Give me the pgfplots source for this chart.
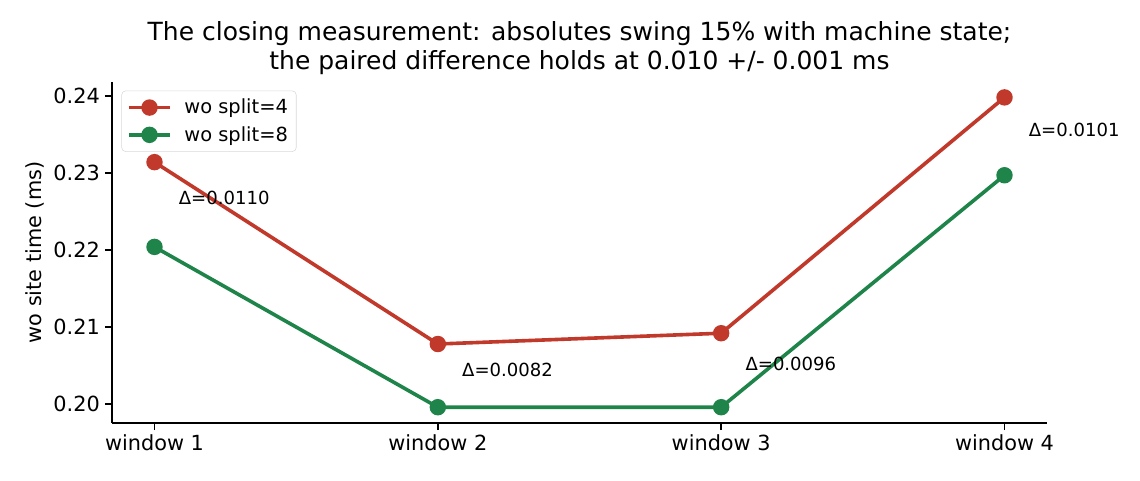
\documentclass[border=0pt]{standalone}
\usepackage{pgfplots}
\pgfplotsset{compat=1.18}
\usepackage{fontspec}
\setmainfont{DejaVu Sans}
\definecolor{cred}{HTML}{C0392B}
\definecolor{cgreen}{HTML}{1E8449}
\begin{document}
\begin{tikzpicture}
\useasboundingbox (-80.64pt,-41.04pt) rectangle (740.16pt,304.56pt);
\begin{axis}[
  at={(0,0)}, anchor=south west,
  scale only axis, width=673.2pt, height=245.52pt,
  xmin=-0.15, xmax=3.15, ymin=0.19755, ymax=0.2418,
  xtick={0,1,2,3}, xticklabels={window 1,window 2,window 3,window 4},
  ytick={0.20,0.21,0.22,0.23,0.24},
  yticklabel style={/pgf/number format/.cd, fixed, fixed zerofill, precision=2},
  /pgf/number format/assume math mode=true,
  tick label style={font=\fontsize{15}{18}\selectfont},
  axis x line*=bottom, axis y line*=left,
  axis line style={line width=1.1pt, -},
  tick style={line width=1.1pt, black},
  tick align=outside, major tick length=5.2pt,
  ylabel={wo site time (ms)},
  ylabel style={font=\fontsize{15}{18}\selectfont},
  title={The closing measurement: absolutes swing 15\% with machine state;\\the paired difference holds at 0.010 +/- 0.001 ms},
  title style={font=\fontsize{18}{20.5}\selectfont, align=center, yshift=-4pt},
  legend style={font=\fontsize{14}{17}\selectfont, draw=black!15, rounded corners=3pt, at={(0.01,0.975)}, anchor=north west, row sep=3.5pt, inner sep=4pt},
  legend cell align=left,
  legend image code/.code={\draw[#1, mark repeat=2, mark phase=2] plot coordinates {(0cm,0cm) (0.52cm,0cm) (1.04cm,0cm)}; \path (1.04cm+7pt,0cm);},
  clip=false,
]
\addplot[cred, line width=2.6pt, mark=*, mark size=4.6pt, mark options={solid}] coordinates {(0,0.2314) (1,0.2078) (2,0.2092) (3,0.2398)};
\addlegendentry{wo split=4}
\addplot[cgreen, line width=2.6pt, mark=*, mark size=4.6pt, mark options={solid}] coordinates {(0,0.2204) (1,0.1996) (2,0.1996) (3,0.2297)};
\addlegendentry{wo split=8}
\node[anchor=west, font=\fontsize{13}{15}\selectfont, inner sep=0pt] at (axis cs:0.085,0.2267) {Δ=0.0110};
\node[anchor=west, font=\fontsize{13}{15}\selectfont, inner sep=0pt] at (axis cs:1.085,0.2044) {Δ=0.0082};
\node[anchor=west, font=\fontsize{13}{15}\selectfont, inner sep=0pt] at (axis cs:2.085,0.2052) {Δ=0.0096};
\node[anchor=west, font=\fontsize{13}{15}\selectfont, inner sep=0pt] at (axis cs:3.085,0.2356) {Δ=0.0101};
\end{axis}
\end{tikzpicture}
\end{document}
